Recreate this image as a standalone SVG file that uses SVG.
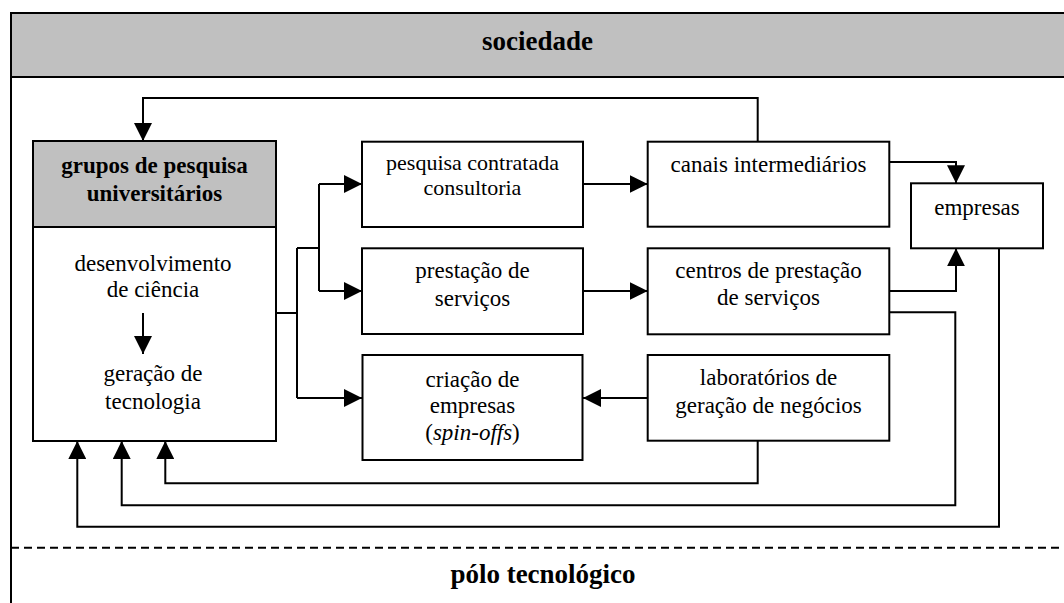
<svg xmlns="http://www.w3.org/2000/svg" width="1064" height="603" viewBox="0 0 1064 603">
<defs>
<marker id="ah" viewBox="0 0 18 18" refX="18" refY="9" markerWidth="18" markerHeight="18" markerUnits="userSpaceOnUse" orient="auto">
<path d="M0,0 L18,9 L0,18 Z" fill="#000"/>
</marker>
</defs>
<rect width="1064" height="603" fill="#fff"/>
<g id="frame">
<rect x="11" y="13" width="1070" height="64" fill="#c0c0c0" stroke="none"/>
<path d="M11,603 V13 H1064 M11,77 H1064" fill="none" stroke="#000" stroke-width="2"/>
<path d="M11,547.7 H1064" fill="none" stroke="#000" stroke-width="2" stroke-dasharray="8,5"/>
<text x="537.5" y="50" font-family="Liberation Serif, Times New Roman, serif" font-size="27" font-weight="bold" text-anchor="middle">sociedade</text>
<text x="543" y="583" font-family="Liberation Serif, Times New Roman, serif" font-size="27" font-weight="bold" text-anchor="middle">p&#243;lo tecnol&#243;gico</text>
</g>
<g id="grupos">
<rect x="33" y="141" width="243" height="300" fill="#fff" stroke="#000" stroke-width="2"/>
<rect x="33" y="141" width="243" height="86" fill="#c0c0c0" stroke="#000" stroke-width="2"/>
<text x="154.5" y="173" font-family="Liberation Serif, Times New Roman, serif" font-size="23" font-weight="bold" text-anchor="middle">grupos de pesquisa</text>
<text x="154.5" y="201" font-family="Liberation Serif, Times New Roman, serif" font-size="23" font-weight="bold" text-anchor="middle">universit&#225;rios</text>
<text x="153" y="271" font-family="Liberation Serif, Times New Roman, serif" font-size="23" text-anchor="middle">desenvolvimento</text>
<text x="153" y="297" font-family="Liberation Serif, Times New Roman, serif" font-size="23" text-anchor="middle">de ci&#234;ncia</text>
<text x="153" y="381" font-family="Liberation Serif, Times New Roman, serif" font-size="23" text-anchor="middle">gera&#231;&#227;o de</text>
<text x="153" y="409" font-family="Liberation Serif, Times New Roman, serif" font-size="23" text-anchor="middle">tecnologia</text>
</g>
<g id="pesquisa">
<rect x="362" y="141.7" width="221" height="85.3" fill="#fff" stroke="#000" stroke-width="2"/>
<text x="472.5" y="170" font-family="Liberation Serif, Times New Roman, serif" font-size="22" text-anchor="middle">pesquisa contratada</text>
<text x="472.5" y="195" font-family="Liberation Serif, Times New Roman, serif" font-size="22" text-anchor="middle">consultoria</text>
</g>
<g id="prestacao">
<rect x="362" y="248.3" width="221" height="85.7" fill="#fff" stroke="#000" stroke-width="2"/>
<text x="472.5" y="278" font-family="Liberation Serif, Times New Roman, serif" font-size="23" text-anchor="middle">presta&#231;&#227;o de</text>
<text x="472.5" y="306" font-family="Liberation Serif, Times New Roman, serif" font-size="23" text-anchor="middle">servi&#231;os</text>
</g>
<g id="criacao">
<rect x="362.5" y="355" width="220" height="105" fill="#fff" stroke="#000" stroke-width="2"/>
<text x="472.5" y="387" font-family="Liberation Serif, Times New Roman, serif" font-size="23" text-anchor="middle">cria&#231;&#227;o de</text>
<text x="472.5" y="413" font-family="Liberation Serif, Times New Roman, serif" font-size="23" text-anchor="middle">empresas</text>
<text x="472.5" y="440" font-family="Liberation Serif, Times New Roman, serif" font-size="23" text-anchor="middle">(<tspan font-style="italic">spin-offs</tspan>)</text>
</g>
<g id="canais">
<rect x="647.7" y="141.7" width="241.6" height="85" fill="#fff" stroke="#000" stroke-width="2"/>
<text x="768.5" y="172" font-family="Liberation Serif, Times New Roman, serif" font-size="23" text-anchor="middle">canais intermedi&#225;rios</text>
</g>
<g id="centros">
<rect x="647.7" y="248.3" width="241.6" height="86" fill="#fff" stroke="#000" stroke-width="2"/>
<text x="768.5" y="278" font-family="Liberation Serif, Times New Roman, serif" font-size="23" text-anchor="middle">centros de presta&#231;&#227;o</text>
<text x="768.5" y="305" font-family="Liberation Serif, Times New Roman, serif" font-size="23" text-anchor="middle">de servi&#231;os</text>
</g>
<g id="laboratorios">
<rect x="647.7" y="355" width="241.6" height="85.7" fill="#fff" stroke="#000" stroke-width="2"/>
<text x="768.5" y="385" font-family="Liberation Serif, Times New Roman, serif" font-size="23" text-anchor="middle">laborat&#243;rios de</text>
<text x="768.5" y="413" font-family="Liberation Serif, Times New Roman, serif" font-size="23" text-anchor="middle">gera&#231;&#227;o de neg&#243;cios</text>
</g>
<g id="empresas">
<rect x="911" y="183.3" width="132" height="65" fill="#fff" stroke="#000" stroke-width="2"/>
<text x="977" y="215" font-family="Liberation Serif, Times New Roman, serif" font-size="23" text-anchor="middle">empresas</text>
</g>
<g id="connectors" fill="none" stroke="#000" stroke-width="2">
<path d="M757.7,141.7 V98 H143 V141" marker-end="url(#ah)"/>
<path d="M143,313 V354" marker-end="url(#ah)"/>
<path d="M276,313 H297 M297,248 V398 M297,248 H319 M319,184 V291"/>
<path d="M319,184 H362" marker-end="url(#ah)"/>
<path d="M319,291 H362" marker-end="url(#ah)"/>
<path d="M297,398 H362" marker-end="url(#ah)"/>
<path d="M583,184 H647.7" marker-end="url(#ah)"/>
<path d="M583,291 H647.7" marker-end="url(#ah)"/>
<path d="M647.7,398 H583" marker-end="url(#ah)"/>
<path d="M889.3,162 H956 V183.3" marker-end="url(#ah)"/>
<path d="M889.3,291 H956 V248.3" marker-end="url(#ah)"/>
<path d="M889.3,312.3 H955.3 V505.3 H121.7 V441" marker-end="url(#ah)"/>
<path d="M757.7,440.7 V483.3 H165.3 V441" marker-end="url(#ah)"/>
<path d="M999,248.3 V526.7 H77.3 V441" marker-end="url(#ah)"/>
</g>
</svg>
